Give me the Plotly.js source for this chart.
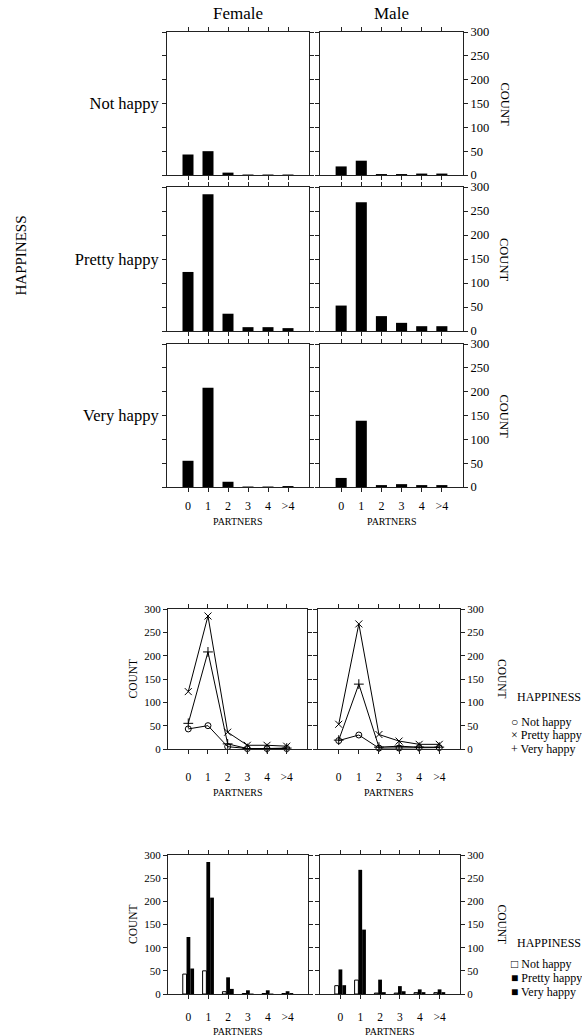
<!DOCTYPE html>
<html>
<head>
<meta charset="utf-8">
<script src="https://cdn.plot.ly/plotly-3.0.1.min.js"></script>
<style>html,body{margin:0;padding:0;background:#fff;}#chart{width:582px;height:1036px;}</style>
</head>
<body>
<div id="chart"></div>
<script>
// ---- data ----
const categories = ['0', '1', '2', '3', '4', '>4'];
const femaleNotHappy    = [43, 50, 5, 1, 1, 1];
const femalePrettyHappy = [123, 285, 36, 8, 8, 6];
const femaleVeryHappy   = [55, 208, 11, 1, 1, 2];
const maleNotHappy      = [18, 30, 2, 2, 3, 3];
const malePrettyHappy   = [53, 268, 31, 17, 10, 10];
const maleVeryHappy     = [19, 139, 4, 6, 4, 4];
const happinessLevels = ['Not happy', 'Pretty happy', 'Very happy'];
const sexes = ['Female', 'Male'];
const countTicks = [0, 50, 100, 150, 200, 250, 300];

// ---- layout helpers ----
const W = 582, H = 1036;
const FONT = '"Liberation Serif", "Times New Roman", serif';
const dx = (a, b) => [a / W, b / W];
const dy = (top, bottom) => [1 - bottom / H, 1 - top / H];
const px = x => x / W;
const py = y => 1 - y / H;

const lineCol = '#222';
function baseX(domain, range, showLabels, fs, standoff) {
  return {
    domain: domain, type: 'category', range: range,
    categoryorder: 'array', categoryarray: categories,
    showline: true, linecolor: lineCol, linewidth: 1, mirror: 'ticks',
    ticks: 'outside', ticklen: 4, tickcolor: lineCol, tickwidth: 1,
    showgrid: false, zeroline: false, fixedrange: true,
    showticklabels: showLabels, ticklabelstandoff: standoff,
    tickfont: {family: FONT, size: fs, color: '#000'}
  };
}
function baseY(domain, side, ticktext, fs) {
  return {
    domain: domain, range: [0, 300], side: side,
    tickvals: countTicks, ticktext: ticktext,
    showline: true, linecolor: lineCol, linewidth: 1, mirror: 'ticks',
    ticks: 'outside', ticklen: 4, tickcolor: lineCol, tickwidth: 1,
    showgrid: false, zeroline: false, fixedrange: true,
    tickfont: {family: FONT, size: fs, color: '#000'}
  };
}

const layout = {
  width: W, height: H,
  margin: {l: 0, r: 0, t: 0, b: 0},
  paper_bgcolor: '#fff', plot_bgcolor: '#fff',
  showlegend: false, barmode: 'overlay',
  font: {family: FONT, color: '#000'},
  annotations: []
};
const data = [];
const ann = (text, x, y, size, extra) => layout.annotations.push(Object.assign({
  text: text, x: px(x), y: py(y), xref: 'paper', yref: 'paper', showarrow: false,
  font: {family: FONT, size: size, color: '#000'}, xanchor: 'center', yanchor: 'middle'
}, extra || {}));

// ---- Section 1: small multiples of bars ----
const topCols = [[167, 309], [320, 463]];
const topRows = [[32, 175], [187, 331], [344, 487]];
const topSeries = [
  [femaleNotHappy, maleNotHappy],
  [femalePrettyHappy, malePrettyHappy],
  [femaleVeryHappy, maleVeryHappy]
];
let ax = 1;
for (let r = 0; r < 3; r++) {
  for (let c = 0; c < 2; c++) {
    const sfx = ax === 1 ? '' : ax;
    layout['xaxis' + sfx] = baseX(dx(...topCols[c]), [-1.05, 6.05], r === 2, 12, 4);
    layout['xaxis' + sfx].anchor = 'y' + sfx;
    const ttxt = c === 0 ? countTicks.map(v => v === 150 ? happinessLevels[r] : '')
                         : countTicks.map(String);
    layout['yaxis' + sfx] = baseY(dy(...topRows[r]), c === 0 ? 'left' : 'right', ttxt, c === 0 ? 16.5 : 12.5);
    layout['yaxis' + sfx].anchor = 'x' + sfx;
    data.push({
      type: 'bar', x: categories, y: topSeries[r][c], width: 0.55,
      marker: {color: '#000', line: {width: 0}},
      xaxis: 'x' + sfx, yaxis: 'y' + sfx
    });
    ax++;
  }
  ann('COUNT', 504, (topRows[r][0] + topRows[r][1]) / 2, 12.5, {textangle: 90});
}
ann(sexes[0], 238, 14, 17);
ann(sexes[1], 391.5, 14, 17);
ann('HAPPINESS', 20.5, 256, 15, {textangle: -90});
ann('PARTNERS', 238, 521, 10);
ann('PARTNERS', 391.5, 521, 10);

// ---- Section 2: line chart ----
const midCols = [[168, 307], [318, 460]];
const midRow = [609, 749];
const femaleAll = [femaleNotHappy, femalePrettyHappy, femaleVeryHappy];
const maleAll = [maleNotHappy, malePrettyHappy, maleVeryHappy];
const lineSymbols = ['circle-open', 'x-thin-open', 'cross-thin-open'];
for (let c = 0; c < 2; c++) {
  const n = ax;
  layout['xaxis' + n] = baseX(dx(...midCols[c]), [-1.03, 6.03], true, 11.5, 13);
  layout['xaxis' + n].anchor = 'y' + n;
  layout['yaxis' + n] = baseY(dy(...midRow), c === 0 ? 'left' : 'right', countTicks.map(String), 11);
  layout['yaxis' + n].anchor = 'x' + n;
  const series = c === 0 ? femaleAll : maleAll;
  series.forEach((s, i) => data.push({
    type: 'scatter', mode: 'lines+markers', x: categories, y: s, name: happinessLevels[i],
    line: {color: '#000', width: 1},
    marker: {symbol: lineSymbols[i], size: i === 0 ? 6 : 7, color: '#000', line: {color: '#000', width: 1}},
    xaxis: 'x' + n, yaxis: 'y' + n, cliponaxis: false
  }));
  ann('PARTNERS', (midCols[c][0] + midCols[c][1]) / 2, 792, 10);
  ax++;
}
ann('COUNT', 132.5, 679, 11.5, {textangle: -90});
ann('COUNT', 502, 679, 11.5, {textangle: 90});
ann('HAPPINESS', 515, 696.5, 12, {xanchor: 'left'});
ann('\u25CB Not happy', 509, 721.5, 12, {xanchor: 'left'});
ann('\u00D7 Pretty happy', 509, 735, 12, {xanchor: 'left'});
ann('+ Very happy', 509, 748.5, 12, {xanchor: 'left'});

// ---- Section 3: grouped bars ----
const botCols = [[168, 308], [320, 460]];
const botRow = [855, 994];
const barOffsets = [-0.285, -0.095, 0.095];
const barFills = ['#fff', '#000', '#000'];
for (let c = 0; c < 2; c++) {
  const n = ax;
  layout['xaxis' + n] = baseX(dx(...botCols[c]), [-1.03, 6.03], true, 11.5, 8);
  layout['xaxis' + n].anchor = 'y' + n;
  layout['yaxis' + n] = baseY(dy(...botRow), c === 0 ? 'left' : 'right', countTicks.map(String), 11);
  layout['yaxis' + n].anchor = 'x' + n;
  const series = c === 0 ? femaleAll : maleAll;
  series.forEach((s, i) => data.push({
    type: 'bar', x: categories, y: s, name: happinessLevels[i],
    width: 0.19, offset: barOffsets[i],
    marker: {color: barFills[i], line: {color: '#000', width: i === 0 ? 1 : 0}},
    xaxis: 'x' + n, yaxis: 'y' + n
  }));
  ann('PARTNERS', (botCols[c][0] + botCols[c][1]) / 2, 1031, 10);
  ax++;
}
ann('COUNT', 132.5, 924.5, 11.5, {textangle: -90});
ann('COUNT', 502, 924.5, 11.5, {textangle: 90});
ann('HAPPINESS', 515, 943, 12, {xanchor: 'left'});
ann('\u25A1 Not happy', 509, 964, 12, {xanchor: 'left'});
ann('\u25A0 Pretty happy', 509, 978, 12, {xanchor: 'left'});
ann('\u25A0 Very happy', 509, 991.5, 12, {xanchor: 'left'});

Plotly.newPlot('chart', data, layout, {displayModeBar: false, staticPlot: true});
</script>
</body>
</html>
